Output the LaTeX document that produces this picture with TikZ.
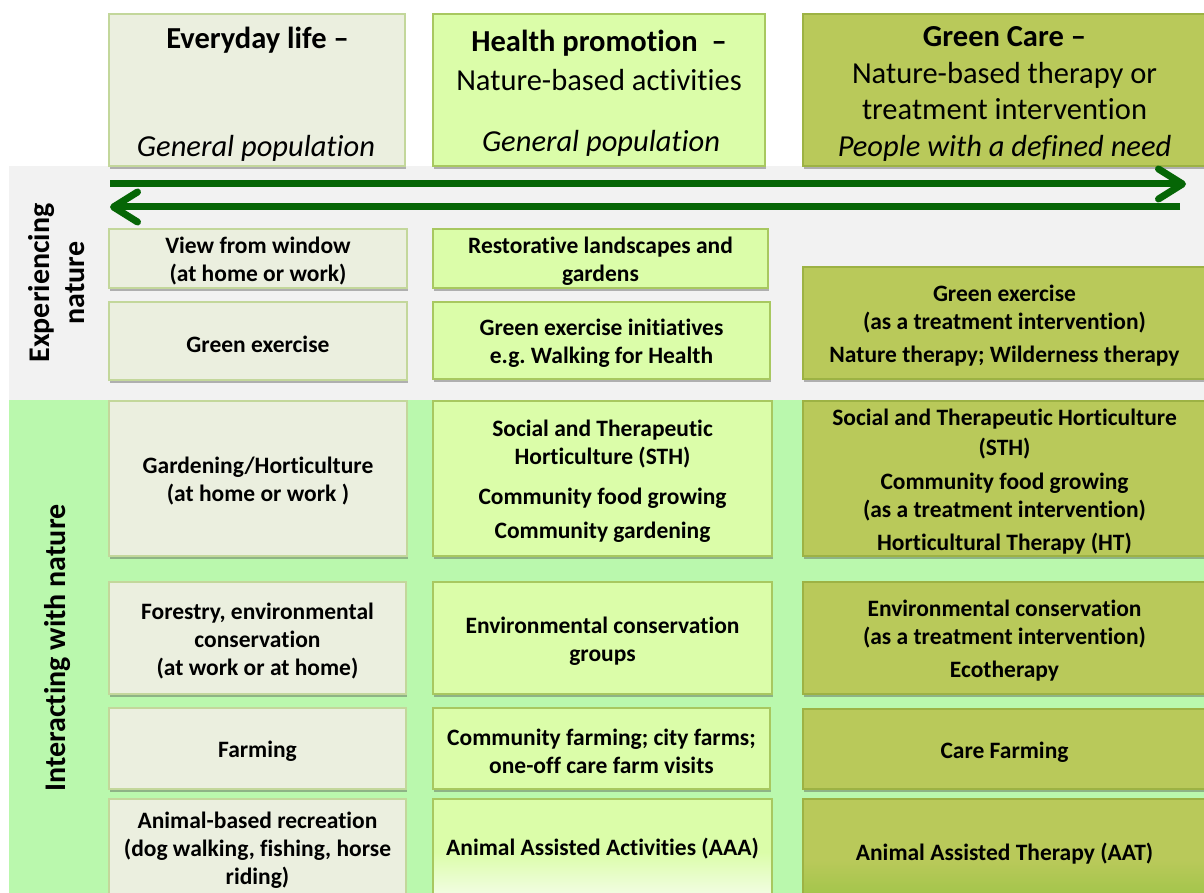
\documentclass[tikz,border=0pt]{standalone}
\usepackage{fontspec}
\setmainfont{Carlito}[RawFeature={-liga;-clig;-dlig}]
\frenchspacing
\usetikzlibrary{arrows.meta,shadows}
\definecolor{cone}{HTML}{EBEFDF}
\definecolor{ctwo}{HTML}{DBFDA9}
\definecolor{cthree}{HTML}{B9C95A}
\definecolor{bone}{HTML}{C3D79B}
\definecolor{btwo}{HTML}{A8C860}
\definecolor{bthree}{HTML}{9DB244}
\definecolor{greyband}{HTML}{F2F2F2}
\definecolor{greenband}{HTML}{BAF8AD}
\definecolor{arrowgreen}{HTML}{066606}
\definecolor{lowthree}{HTML}{9DC447}
\definecolor{lowtwo}{HTML}{F3FDE6}
\newcommand\cellbox[7]{%
  \node[#1, minimum width=#5pt, minimum height=#6pt] (#2) at (#3,#4) {};
  \node[celltext] (#2t) at ([yshift=-3pt]#2.center) {#7};}
\begin{document}
\begin{tikzpicture}[x=1pt,y=-1pt,
  box/.style={draw, line width=1.2pt, inner sep=0pt,
    drop shadow={shadow xshift=1pt,shadow yshift=-3pt,opacity=0.4,fill=black!70}},
  cbone/.style={box, fill=cone, draw=bone},
  cbtwo/.style={box, fill=ctwo, draw=btwo},
  cbthree/.style={box, fill=cthree, draw=bthree},
  celltext/.style={inner sep=0pt, align=center, font=\fontsize{23.5}{28}\selectfont\bfseries},
  hdtext/.style={inner sep=0pt, align=center, font=\fontsize{30.5}{36.7}\selectfont},
  sidelab/.style={inner sep=0pt, align=center, rotate=90, font=\fontsize{30}{35}\selectfont\bfseries},
  arr/.style={draw=arrowgreen, line width=7pt,
    -{Straight Barb[length=24pt,width=30pt,line width=7pt,round]}}
]
\useasboundingbox (0,0) rectangle (1204,893);
\fill[white] (0,0) rectangle (1204,893);
% bands
\fill[greyband] (9,166) rectangle (1210,400);
\fill[greenband] (9,400) rectangle (1210,900);

% headers
\node[cbone, minimum width=296pt, minimum height=152pt] (h1) at (257,90) {};
\node[cbtwo, minimum width=332pt, minimum height=152pt] (h2) at (599,90) {};
\node[cbthree, minimum width=403pt, minimum height=152pt] (h3) at (1004.5,90) {};
\node[hdtext] (h1a) at (257.5,40) {\bfseries Everyday life –};
\node[hdtext] (h1b) at (256,148) {\itshape General population};
\node[hdtext] (h2a) at (599,43) {\bfseries Health promotion \ –};
\node[hdtext] (h2b) at (599,80) {Nature-based activities};
\node[hdtext] (h2c) at (601,143) {\itshape General population};
\node[hdtext] (h3a) at (1004.5,94) {\bfseries Green Care –\\Nature-based therapy or\\treatment intervention\\\itshape People with a defined need};

% arrows
\coordinate (r0) at (110,184);
\coordinate (r1) at (1186,184);
\coordinate (l0) at (1180,207);
\coordinate (l1) at (110,207);
\draw[arr] (r0) -- (r1);
\draw[arr] (l0) -- (l1);

% side labels
\node[sidelab] (exp) at (57,283) {Experiencing\\nature};
\node[sidelab] (int) at (58,648) {Interacting with nature};

% row A
\cellbox{cbone}{a1}{258}{258.5}{298}{59}{View from window\\(at home or work)}
\cellbox{cbtwo}{a2}{600.5}{258.5}{335}{59}{Restorative landscapes and\\gardens}
% row B
\cellbox{cbone}{b1}{258}{341}{298}{78}{Green exercise}
\cellbox{cbtwo}{b2}{601.5}{340.5}{337}{77}{Green exercise initiatives\\e.g. Walking for Health}
\cellbox{cbthree}{b3}{1004.5}{323}{403}{112}{Green exercise\\(as a treatment intervention)\\[5pt]Nature therapy; Wilderness therapy}
% row C
\cellbox{cbone}{c1}{258}{478.5}{298}{155}{Gardening/Horticulture\\(at home or work )}
\cellbox{cbtwo}{c2}{602.5}{478.5}{339}{155}{Social and Therapeutic\\Horticulture (STH)\\[12pt]Community food growing\\[6pt]Community gardening}
\cellbox{cbthree}{c3}{1004.5}{478.5}{403}{155}{Social and Therapeutic Horticulture\\[2pt](STH)\\[6pt]Community food growing\\(as a treatment intervention)\\[5pt]Horticultural Therapy (HT)}
% row D
\cellbox{cbone}{d1}{257.5}{638}{297}{112}{Forestry, environmental\\conservation\\(at work or at home)}
\cellbox{cbtwo}{d2}{602.5}{638}{339}{112}{Environmental conservation\\groups}
\cellbox{cbthree}{d3}{1004.5}{638}{403}{112}{Environmental conservation\\(as a treatment intervention)\\[5pt]Ecotherapy}
% row E
\cellbox{cbone}{e1}{257.5}{748.5}{297}{81}{Farming}
\cellbox{cbtwo}{e2}{601.5}{748.5}{337}{81}{Community farming; city farms;\\one-off care farm visits}
\cellbox{cbthree}{e3}{1004.5}{749}{403}{80}{Care Farming}
% row F
\node[cbone, minimum width=297pt, minimum height=98pt] (f1) at (257.5,848) {};
\node[cbtwo, minimum width=339pt, minimum height=98pt] (f2) at (602.5,848) {};
\node[cbthree, minimum width=403pt, minimum height=106pt] (f3) at (1004.5,852) {};
\fill[top color=ctwo, bottom color=lowtwo] (434.2,852) rectangle (770.8,897);
\fill[top color=cthree, bottom color=lowthree] (804.2,860) rectangle (1206,905);
\node[celltext] (f1t) at ([yshift=-2pt]f1.center) {Animal-based recreation\\(dog walking, fishing, horse\\riding)};
\node[celltext] (f2t) at ([yshift=-1pt]f2.center) {Animal Assisted Activities (AAA)};
\node[celltext] (f3t) at ([yshift=-2pt]f3.center) {Animal Assisted Therapy (AAT)};
\end{tikzpicture}
\end{document}
